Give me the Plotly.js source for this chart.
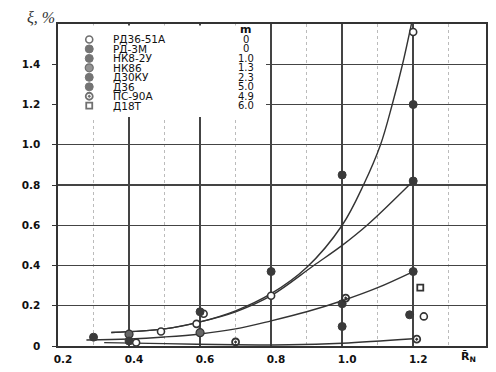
<!DOCTYPE html>
<html>
<head>
<meta charset="utf-8">
<script src="https://cdn.plot.ly/plotly-3.0.1.min.js"></script>
<style>html,body{margin:0;padding:0;background:#fff;}#chart{width:496px;height:372px;}</style>
</head>
<body>
<div id="chart"></div>
<script>
// ---- data ----
const xTicks = [0.2, 0.4, 0.6, 0.8, 1.0, 1.2];
const xTickText = ['0.2', '0.4', '0.6', '0.8', '1.0', '1.2'];
const xMinorTicks = [0.3, 0.5, 0.7, 0.9, 1.1, 1.3];
const yTicks = [0, 0.2, 0.4, 0.6, 0.8, 1.0, 1.2, 1.4];
const yTickText = ['0', '0.2', '0.4', '0.6', '0.8', '1.0', '1.2', '1.4'];

// fitted curves
const curveUpperX = [0.35, 0.5, 0.6, 0.7, 0.8, 0.9, 1.0, 1.06, 1.108, 1.141, 1.17, 1.195];
const curveUpperY = [0.067, 0.085, 0.12, 0.175, 0.26, 0.39, 0.6, 0.8, 1.0, 1.2, 1.4, 1.6];
const curveSecondX = [0.35, 0.5, 0.6, 0.7, 0.8, 0.92, 1.0, 1.07, 1.2];
const curveSecondY = [0.067, 0.085, 0.12, 0.17, 0.25, 0.4, 0.5, 0.6, 0.82];
const curveMiddleX = [0.28, 0.4, 0.5, 0.6, 0.7, 0.8, 0.9, 1.0, 1.1, 1.2];
const curveMiddleY = [0.03, 0.035, 0.045, 0.06, 0.085, 0.125, 0.17, 0.225, 0.29, 0.37];
const curveLowX = [0.33, 0.5, 0.7, 0.85, 1.0, 1.2];
const curveLowY = [0.017, 0.012, 0.006, 0.006, 0.014, 0.036];

// engines (legend)
const engineNames = ['РД36-51А', 'РД-3М', 'НК8-2У', 'НК86', 'Д30КУ', 'Д36', 'ПС-90А', 'Д18Т'];
const engineM = ['0', '0', '1.0', '1.3', '2.3', '5.0', '4.9', '6.0'];

// measured points per engine
const rd3651X = [0.42, 0.49, 0.59, 0.61, 0.8, 1.2, 1.23];
const rd3651Y = [0.017, 0.072, 0.11, 0.16, 0.25, 1.56, 0.147];
const rd3mX = [1.2, 1.0];
const rd3mY = [1.2, 0.85];
const nk82uX = [1.2, 0.8, 0.6];
const nk82uY = [0.82, 0.37, 0.17];
const nk86X = [0.4, 0.6];
const nk86Y = [0.059, 0.066];
const d30kuX = [1.2, 1.0, 0.3];
const d30kuY = [0.37, 0.21, 0.044];
const d36X = [1.0, 1.19, 0.4];
const d36Y = [0.097, 0.155, 0.025];
const ps90X = [0.7, 1.01, 1.21];
const ps90Y = [0.02, 0.238, 0.034];
const d18tX = [1.22];
const d18tY = [0.29];

// ---- styles ----
const xRange = [0.2, 1.405];
const yRange = [0, 1.6];
const ink = '#333';
const styles = [
  {symbol: 'circle', color: '#fff', line: ink, lw: 1.6, size: 7},
  {symbol: 'circle', color: '#3a3a3a', line: '#3a3a3a', lw: 1, size: 8},
  {symbol: 'circle', color: '#3a3a3a', line: '#3a3a3a', lw: 1, size: 8},
  {symbol: 'circle', color: '#666', line: '#333', lw: 1.2, size: 8},
  {symbol: 'circle', color: '#3a3a3a', line: '#3a3a3a', lw: 1, size: 8},
  {symbol: 'circle', color: '#3a3a3a', line: '#3a3a3a', lw: 1, size: 8},
  {symbol: 'circle-open-dot', color: ink, line: ink, lw: 1.8, size: 7},
  {symbol: 'square-open', color: ink, line: ink, lw: 1.8, size: 6}
];
const seriesX = [rd3651X, rd3mX, nk82uX, nk86X, d30kuX, d36X, ps90X, d18tX];
const seriesY = [rd3651Y, rd3mY, nk82uY, nk86Y, d30kuY, d36Y, ps90Y, d18tY];

// legend layout (paper fractions)
const legMarkerFx = 0.073, legNameFx = 0.124, legMFx = 0.439;
const legRow0 = 0.952, legStep = 0.0294;
const legBox = {x0: 0, x1: 0.486, y0: 0.711, y1: 0.995};
const toDataX = f => xRange[0] + f * (xRange[1] - xRange[0]);
const toDataY = f => yRange[0] + f * (yRange[1] - yRange[0]);

const traces = [];
// white legend background (covers the grid like in the printed figure)
traces.push({
  x: [legBox.x0, legBox.x1, legBox.x1, legBox.x0, legBox.x0].map(toDataX),
  y: [legBox.y0, legBox.y0, legBox.y1, legBox.y1, legBox.y0].map(toDataY),
  mode: 'lines', fill: 'toself', fillcolor: '#fff', line: {width: 0, color: 'rgba(0,0,0,0)'},
  hoverinfo: 'skip', showlegend: false, cliponaxis: true
});

[[curveUpperX, curveUpperY], [curveSecondX, curveSecondY], [curveMiddleX, curveMiddleY], [curveLowX, curveLowY]]
  .forEach(([cx, cy]) => traces.push({
    x: cx, y: cy, mode: 'lines', line: {color: ink, width: 1.4, shape: 'spline', smoothing: 1},
    hoverinfo: 'skip', showlegend: false, cliponaxis: false
  }));

seriesX.forEach((sx, i) => {
  const s = styles[i];
  traces.push({
    x: sx, y: seriesY[i], mode: 'markers', name: engineNames[i], showlegend: false, cliponaxis: false,
    marker: {symbol: s.symbol, size: s.size, color: s.color, line: {color: s.line, width: s.lw}}
  });
});

traces.push({
  x: engineNames.map(() => toDataX(legMarkerFx)),
  y: engineNames.map((_, i) => toDataY(legRow0 - i * legStep)),
  mode: 'markers', showlegend: false, hoverinfo: 'skip', cliponaxis: false,
  marker: {
    symbol: styles.map(s => s.symbol), size: styles.map(s => s.size),
    color: styles.map(s => s.color),
    line: {color: styles.map(s => s.line), width: styles.map(s => s.lw)}
  }
});

const font = 'DejaVu Sans, Liberation Sans, sans-serif';
const annotations = [];
engineNames.forEach((n, i) => {
  annotations.push({xref: 'paper', yref: 'paper', x: legNameFx, y: legRow0 - i * legStep,
    text: n, showarrow: false, xanchor: 'left', yanchor: 'middle',
    font: {family: font, size: 10.5, color: '#111'}});
  annotations.push({xref: 'paper', yref: 'paper', x: legMFx, y: legRow0 - i * legStep,
    text: engineM[i], showarrow: false, xanchor: 'center', yanchor: 'middle',
    font: {family: font, size: 10, color: '#111'}});
});
annotations.push({xref: 'paper', yref: 'paper', x: legMFx, y: legRow0 + 0.03, text: 'm', showarrow: false,
  xanchor: 'center', yanchor: 'middle', font: {family: font, size: 11, color: '#111', weight: 'bold'}});
annotations.push({xref: 'paper', yref: 'paper', x: -0.04, y: 1.02, text: 'ξ, %', showarrow: false,
  xanchor: 'center', yanchor: 'middle', font: {family: 'Liberation Serif, serif', size: 16, color: '#333', style: 'italic'}});
annotations.push({xref: 'paper', yref: 'paper', x: 0.958, y: -0.035, text: 'R\u0304<sub>N</sub>', showarrow: false,
  xanchor: 'center', yanchor: 'middle', font: {family: font, size: 11, color: '#111', weight: 'bold'}});

const layout = {
  width: 496, height: 372,
  margin: {l: 58, r: 10, t: 24, b: 26},
  paper_bgcolor: '#fff', plot_bgcolor: '#fff',
  showlegend: false,
  xaxis: {
    range: xRange, tickmode: 'array', tickvals: xTicks, ticktext: xTickText,
    showgrid: true, gridcolor: '#444', gridwidth: 1.4, zeroline: false,
    showline: true, mirror: true, linecolor: ink, linewidth: 1.6,
    ticks: '', ticklabelshift: 5, ticklabelstandoff: 3,
    tickfont: {family: font, size: 10.5, color: '#111', weight: 'bold'},
    minor: {tickmode: 'array', tickvals: xMinorTicks, showgrid: true, gridcolor: '#bbb', gridwidth: 1, griddash: 'dot', ticks: ''}
  },
  yaxis: {
    range: yRange, tickmode: 'array', tickvals: yTicks, ticktext: yTickText,
    showgrid: true, gridcolor: '#444', gridwidth: 1.4, zeroline: false,
    showline: true, mirror: true, linecolor: ink, linewidth: 1.6,
    ticks: 'outside', ticklen: 4, tickcolor: ink, ticklabelstandoff: 10,
    tickfont: {family: font, size: 10.5, color: '#111', weight: 'bold'}
  },
  annotations: annotations
};

Plotly.newPlot('chart', traces, layout, {displayModeBar: false, staticPlot: true});
</script>
</body>
</html>
